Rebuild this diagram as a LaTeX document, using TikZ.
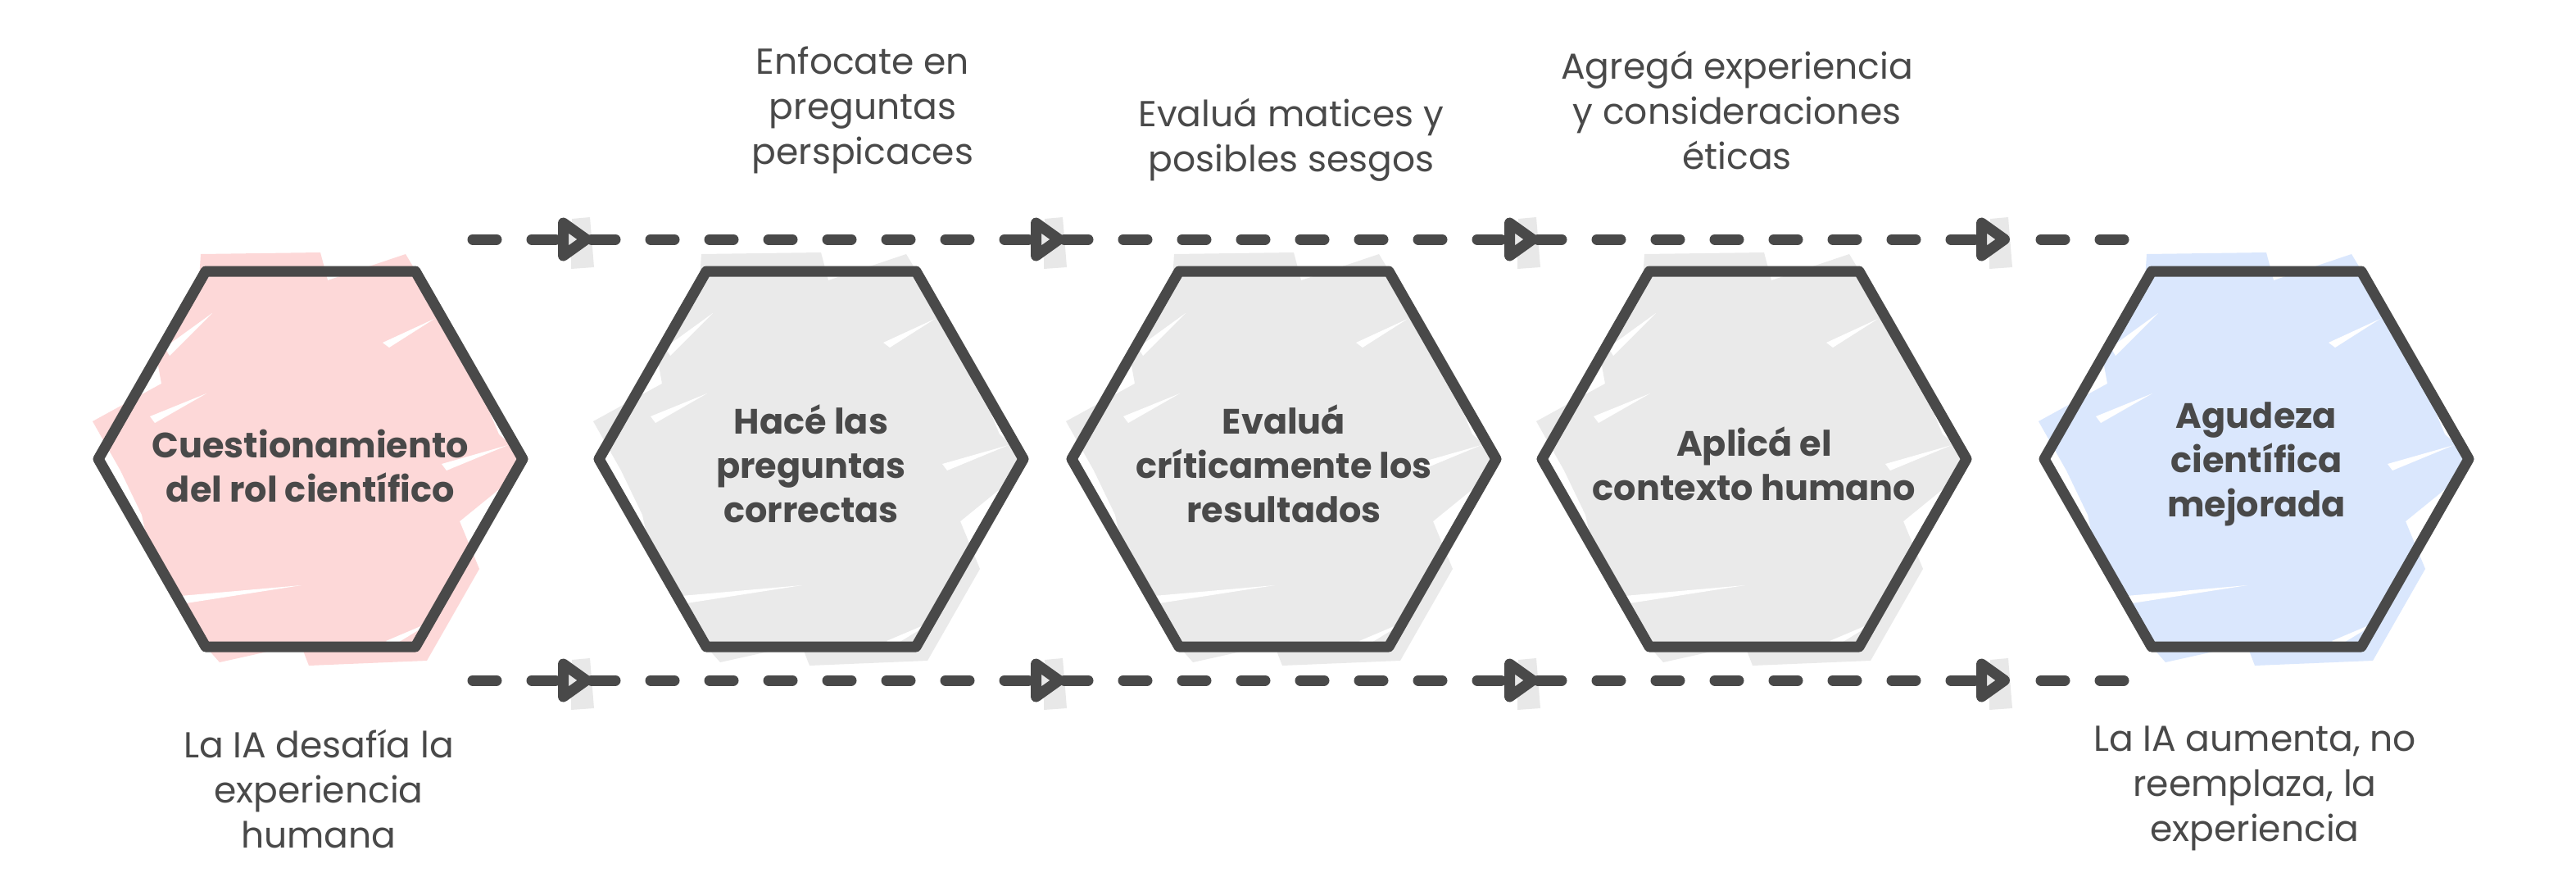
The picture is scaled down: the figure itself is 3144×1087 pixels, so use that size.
\documentclass[tikz,border=0pt]{standalone}
\usepackage{fontspec}
\newfontfamily\handfont{Poppins}
\usetikzlibrary{calc}
\definecolor{ink}{RGB}{73,73,73}
\definecolor{pinkfill}{RGB}{253,216,216}
\definecolor{greyfill}{RGB}{234,234,234}
\definecolor{bluefill}{RGB}{218,231,253}
\definecolor{tipgrey}{RGB}{232,232,232}
\tikzset{
  hexline/.style={draw=ink, line width=6.5pt, line join=round},
  innerlabel/.style={font=\handfont\bfseries\fontsize{21.5}{27}\selectfont, text=ink, align=center, inner sep=0pt},
  outerlabel/.style={font=\handfont\fontsize{22}{27.5}\selectfont, text=ink, align=center, inner sep=0pt},
  flow/.style={draw=ink, line width=6.5pt, line cap=round, dash pattern=on 14.5pt off 21.5pt},
  flowarrow/.style={flow, shorten >=17pt},
  flowtail/.style={flow, dash phase=17pt},
  tiphead/.style={draw=ink, fill=tipgrey, line width=6.5pt, line join=round},
}
% sketchy fill behind a hexagon: #1 centre, #2 colour
\newcommand\sketchfill[2]{%
  \begin{scope}[shift={(#1)}]
    \fill[#2] (-134,-250) -- (12,-252) -- (21,-218) -- (116,-250) -- (140,-210) -- (205,-90)
      -- (230,-30) -- (266,0) -- (246,24) -- (182,76) -- (206,134) -- (142,246) -- (-2,252)
      -- (-12,226) -- (-111,248) -- (-134,222) -- (-200,96) -- (-206,68) -- (-232,14)
      -- (-266,-46) -- (-182,-92) -- (-188,-125) -- (-136,-218) -- cycle;
    \fill[white] (-178,-136) -- (-120,-178) -- (-172,-126) -- cycle;
    \fill[white] (88,-142) -- (151,-171) -- (96,-136) -- cycle;
    \fill[white] (-196,-52) -- (-127,-80) -- (-190,-44) -- cycle;
    \fill[white] (-170,168) -- (-11,154) -- (-165,178) -- cycle;
    \fill[white] (92,222) -- (151,197) -- (100,228) -- cycle;
    \fill[white] (160,6) -- (241,-17) -- (166,14) -- cycle;
  \end{scope}}
% light patch behind an arrow head: #1 tip
\newcommand\tippatch[1]{%
  \begin{scope}[shift={(#1)}]
    \fill[tipgrey] (-24,-25) -- (-2,-27) -- (3,34) -- (-25,36) -- cycle;
  \end{scope}}
% open arrow head ending at #1
\newcommand\arrowhead[1]{%
  \begin{scope}[shift={(#1)}]
    \draw[tiphead] (-34.5,-20) -- (-6.5,0) -- (-34.5,20) -- cycle;
  \end{scope}}
% hexagon outline: #1 centre
\newcommand\hexoutline[1]{%
  \draw[hexline] ($(#1)+(-259,0)$) -- ($(#1)+(-128,-229)$) -- ($(#1)+(128,-229)$)
    -- ($(#1)+(259,0)$) -- ($(#1)+(128,229)$) -- ($(#1)+(-128,229)$) -- cycle;}
\begin{document}
\begin{tikzpicture}[x=0.5pt, y=-0.5pt]
\useasboundingbox (0,0) rectangle (3144,1087);
\fill[white] (0,0) rectangle (3144,1087);

% centres
\coordinate (c1) at (379,560);
\coordinate (c2) at (990,560);
\coordinate (c3) at (1567,560);
\coordinate (c4) at (2141,560);
\coordinate (c5) at (2754,560);

% connector end points
\coordinate (ts) at (577,292);
\coordinate (t2) at (722,292);
\coordinate (t3) at (1299,292);
\coordinate (t4) at (1877,292);
\coordinate (t5) at (2453,292);
\coordinate (te) at (2593,292);
\coordinate (bs) at (577,830);
\coordinate (b2) at (722,830);
\coordinate (b3) at (1299,830);
\coordinate (b4) at (1877,830);
\coordinate (b5) at (2453,830);
\coordinate (be) at (2593,830);

% fills
\sketchfill{c1}{pinkfill}
\sketchfill{c2}{greyfill}
\sketchfill{c3}{greyfill}
\sketchfill{c4}{greyfill}
\sketchfill{c5}{bluefill}

% arrow patches
\foreach \t in {t2,t3,t4,t5,b2,b3,b4,b5} {\tippatch{\t}}

% hexagons
\foreach \c in {c1,c2,c3,c4,c5} {\hexoutline{\c}}

% inner labels
\node[innerlabel] (h1) at ($(c1)+(0,8)$) {Cuestionamiento\\del rol científico};
\node[innerlabel] (h2) at ($(c2)+(0,6)$) {Hacé las\\preguntas\\correctas};
\node[innerlabel] (h3) at ($(c3)+(0,6)$) {Evaluá\\críticamente los\\resultados};
\node[innerlabel] (h4) at ($(c4)+(0,6)$) {Aplicá el\\contexto humano};
\node[innerlabel] (h5) at ($(c5)+(0,6)$) {Agudeza\\científica\\mejorada};

% connectors
\draw[flowarrow] (ts) -- (t2);
\draw[flowarrow] (t2) -- (t3);
\draw[flowarrow] (t3) -- (t4);
\draw[flowarrow] (t4) -- (t5);
\draw[flowtail] (t5) -- (te);
\draw[flowarrow] (bs) -- (b2);
\draw[flowarrow] (b2) -- (b3);
\draw[flowarrow] (b3) -- (b4);
\draw[flowarrow] (b4) -- (b5);
\draw[flowtail] (b5) -- (be);
\foreach \t in {t2,t3,t4,t5,b2,b3,b4,b5} {\arrowhead{\t}}

% outer labels
\node[outerlabel] (la) at (1053,134) {Enfocate en\\preguntas\\perspicaces};
\node[outerlabel] (lb) at (1576,171) {Evaluá matices y\\posibles sesgos};
\node[outerlabel] (lc) at (2120,134) {Agregá experiencia\\y consideraciones\\éticas};
\node[outerlabel] (ld) at (389,962) {La IA desafía la\\experiencia\\humana};
\node[outerlabel] (le) at (2752,962) {La IA aumenta, no\\reemplaza, la\\experiencia};
\end{tikzpicture}
\end{document}
